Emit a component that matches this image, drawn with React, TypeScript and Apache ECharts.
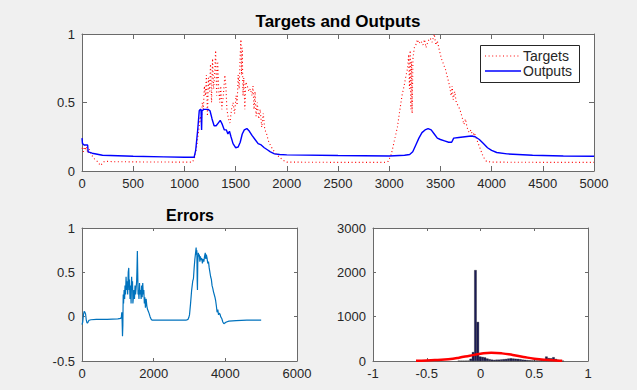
import React, { useEffect, useRef } from "react";
import * as echarts from "echarts";

// ---- Targets (red dotted) ----
const targetX = [0, 15, 25, 35, 45, 55, 70, 90, 110, 130, 150, 170, 185, 200, 220, 250, 300, 600, 900, 1080,
  1100, 1120, 1140, 1155, 1165, 1175, 1185, 1195, 1205, 1215, 1225, 1235, 1245, 1255, 1265, 1275, 1285, 1295, 1305, 1315,
  1325, 1335, 1345, 1355, 1365, 1380, 1395, 1405, 1415, 1430, 1445, 1460, 1475, 1490, 1505, 1515, 1525, 1535, 1545, 1552,
  1558, 1565, 1572, 1580, 1590, 1600, 1615, 1630, 1645, 1660, 1670, 1680, 1690, 1700, 1712, 1725, 1740, 1755, 1770, 1785,
  1800, 1820, 1845, 1870, 1900, 1930, 1960, 2000, 2500, 2950, 2990, 3020, 3050, 3080, 3105, 3125, 3145, 3165, 3180, 3190,
  3198, 3205, 3212, 3218, 3224, 3232, 3245, 3260, 3275, 3290, 3310, 3330, 3345, 3360, 3380, 3400, 3420, 3440, 3455, 3470,
  3490, 3510, 3530, 3550, 3570, 3590, 3605, 3615, 3625, 3640, 3655, 3670, 3690, 3710, 3730, 3745, 3760, 3780, 3800, 3815,
  3830, 3850, 3870, 3890, 3910, 3930, 3950, 4000, 4500, 5000];
const targetY = [0.17, 0.14, 0.19, 0.15, 0.18, 0.13, 0.16, 0.12, 0.10, 0.08, 0.07, 0.05, 0.04, 0.06, 0.07, 0.07, 0.068, 0.066, 0.065, 0.065,
  0.1, 0.18, 0.3, 0.4, 0.35, 0.5, 0.45, 0.62, 0.55, 0.7, 0.4, 0.68, 0.58, 0.78, 0.5, 0.82, 0.6, 0.7, 0.88, 0.55,
  0.8, 0.6, 0.5, 0.62, 0.45, 0.55, 0.7, 0.62, 0.45, 0.38, 0.35, 0.45, 0.5, 0.42, 0.55, 0.48, 0.7, 0.6, 0.85, 0.96,
  0.7, 0.9, 0.55, 0.68, 0.45, 0.65, 0.62, 0.58, 0.6, 0.55, 0.62, 0.45, 0.58, 0.4, 0.5, 0.38, 0.45, 0.32, 0.42, 0.3,
  0.28, 0.22, 0.18, 0.15, 0.12, 0.1, 0.08, 0.065, 0.063, 0.063, 0.07, 0.12, 0.22, 0.32, 0.45, 0.55, 0.62, 0.7, 0.75, 0.85,
  0.6, 0.88, 0.45, 0.8, 0.42, 0.82, 0.9, 0.92, 0.96, 0.93, 0.95, 0.92, 0.96, 0.9, 0.95, 0.97, 0.94, 1.0, 0.92, 0.95,
  0.88, 0.82, 0.78, 0.74, 0.68, 0.62, 0.55, 0.62, 0.52, 0.58, 0.5, 0.48, 0.45, 0.4, 0.34, 0.38, 0.32, 0.28, 0.3, 0.25,
  0.28, 0.24, 0.2, 0.16, 0.12, 0.09, 0.07, 0.065, 0.063, 0.063];

// ---- Outputs (blue) ----
const outputX = [0, 5, 20, 55, 60, 100, 200, 500, 800, 1000, 1095, 1110, 1130, 1145, 1155, 1162, 1168, 1172, 1190, 1230,
  1250, 1270, 1290, 1310, 1330, 1350, 1370, 1390, 1410, 1425, 1440, 1455, 1475, 1500, 1525, 1545, 1565, 1585, 1610, 1635,
  1660, 1690, 1720, 1750, 1780, 1810, 1840, 1880, 1930, 2000, 2500, 3000, 3150, 3200, 3230, 3260, 3290, 3320, 3350, 3380,
  3410, 3440, 3470, 3500, 3540, 3580, 3610, 3630, 3680, 3740, 3800, 3840, 3880, 3920, 3960, 4000, 4050, 4150, 4400, 4700, 5000];
const outputY = [0.24, 0.2, 0.19, 0.19, 0.14, 0.13, 0.115, 0.108, 0.103, 0.1, 0.1, 0.15, 0.3, 0.44, 0.45, 0.45, 0.3, 0.44, 0.45, 0.45,
  0.44, 0.38, 0.33, 0.33, 0.35, 0.37, 0.34, 0.3, 0.3, 0.27, 0.29, 0.25, 0.2, 0.17, 0.175, 0.21, 0.27, 0.3, 0.31, 0.29,
  0.26, 0.23, 0.2, 0.19, 0.17, 0.155, 0.14, 0.125, 0.12, 0.118, 0.113, 0.11, 0.115, 0.12, 0.14, 0.19, 0.24, 0.28, 0.3, 0.31,
  0.3, 0.27, 0.24, 0.23, 0.22, 0.21, 0.21, 0.24, 0.245, 0.25, 0.255, 0.25, 0.23, 0.2, 0.17, 0.15, 0.135, 0.125, 0.115, 0.11, 0.108];

// ---- Errors ----
const errorX = [0, 20, 40, 60, 80, 100, 120, 140, 160, 180, 200, 250, 400, 700, 1000, 1080, 1100, 1110, 1120, 1130,
  1140, 1150, 1160, 1175, 1190, 1200, 1215, 1230, 1245, 1260, 1275, 1290, 1305, 1315, 1325, 1340, 1355, 1370, 1385, 1400,
  1410, 1420, 1435, 1450, 1465, 1480, 1495, 1510, 1525, 1535, 1545, 1555, 1565, 1575, 1590, 1605, 1620, 1635, 1650, 1665,
  1680, 1695, 1710, 1725, 1740, 1755, 1770, 1790, 1810, 1830, 1850, 1870, 1900, 1930, 1960, 2000, 2500, 2900, 2960, 2980,
  3000, 3030, 3060, 3090, 3110, 3130, 3150, 3170, 3185, 3195, 3205, 3215, 3222, 3230, 3245, 3260, 3275, 3290, 3305, 3320,
  3340, 3360, 3380, 3400, 3420, 3440, 3455, 3470, 3490, 3510, 3530, 3550, 3570, 3590, 3610, 3630, 3650, 3670, 3690, 3710,
  3730, 3750, 3770, 3790, 3810, 3830, 3850, 3870, 3900, 3930, 3960, 3990, 4030, 4100, 4300, 4600, 5000];
const errorY = [-0.09, -0.06, 0.02, 0.06, 0.05, 0.03, -0.04, -0.07, -0.07, -0.05, -0.04, -0.035, -0.03, -0.03, -0.025, -0.02, 0.0, 0.05, -0.05, -0.22,
  -0.1, 0.25, 0.15, 0.3, 0.2, 0.35, 0.25, 0.45, 0.3, 0.4, 0.25, 0.5, 0.55, 0.3, 0.42, 0.2, 0.35, 0.15, 0.45, 0.3,
  0.4, 0.15, 0.22, 0.3, 0.2, 0.35, 0.25, 0.32, 0.4, 0.55, 0.74, 0.5, 0.25, 0.3, 0.2, 0.38, 0.25, 0.3, 0.2, 0.35,
  0.22, 0.38, 0.25, 0.3, 0.15, 0.22, 0.1, 0.2, 0.12, 0.08, 0.06, 0.04, 0.0, -0.03, -0.04, -0.04, -0.04, -0.04, -0.03, -0.01,
  0.02, 0.15, 0.3, 0.4, 0.43, 0.55, 0.65, 0.72, 0.78, 0.7, 0.75, 0.4, 0.3, 0.6, 0.72, 0.68, 0.7, 0.62, 0.68, 0.64,
  0.66, 0.6, 0.65, 0.62, 0.68, 0.72, 0.65, 0.7, 0.66, 0.6, 0.62, 0.55, 0.5, 0.45, 0.42, 0.35, 0.32, 0.28, 0.25, 0.22,
  0.18, 0.12, 0.05, 0.08, 0.02, 0.04, 0.03, 0.0, -0.02, -0.06, -0.08, -0.07, -0.06, -0.05, -0.045, -0.04, -0.04];

// ---- Error histogram ----
const binCenters = [-0.201, -0.179, -0.157, -0.135, -0.113, -0.091, -0.069, -0.047, -0.025, -0.003, 0.019, 0.041, 0.063, 0.085, 0.107,
  0.129, 0.151, 0.173, 0.195, 0.217, 0.239, 0.261, 0.283, 0.305, 0.327, 0.349, 0.371, 0.393, 0.415, 0.437, 0.459, 0.481, 0.503,
  0.525, 0.547, 0.569, 0.591, 0.613, 0.635, 0.657, 0.679, 0.701, 0.723, 0.745, 0.767];
const binCounts = [5, 3, 3, 4, 8, 50, 200, 2050, 880, 100, 90, 80, 55, 40, 30,
  25, 30, 30, 35, 40, 45, 55, 60, 55, 50, 45, 40, 30, 25, 20, 15, 12, 10,
  10, 12, 20, 35, 100, 65, 60, 85, 45, 25, 12, 5];

// ---- Fitted normal curve ----
const fitX = [-0.6, -0.5, -0.4, -0.3, -0.2, -0.1, 0, 0.1, 0.2, 0.3, 0.4, 0.5, 0.6, 0.7, 0.76];
const fitY = [6, 12, 25, 42, 75, 120, 163, 185, 172, 135, 92, 52, 26, 12, 7];

const legendNames = ["Targets", "Outputs"];

const FONT = "'Liberation Sans', Arial, Helvetica, sans-serif";
const AXIS_COLOR = "#6a6a6a";
const LABEL_COLOR = "#262626";
const TARGET_DASH = [1, 2.6];

function xAxes(grid: number, min: number, max: number, interval: number, tick: number) {
  const common = {
    type: "value", gridIndex: grid, min, max, interval,
    splitLine: { show: false },
    axisLine: { show: true, onZero: false, lineStyle: { color: AXIS_COLOR, width: 1 } },
    axisTick: { show: true, inside: true, length: tick, lineStyle: { color: AXIS_COLOR } },
  };
  return [
    { ...common, position: "bottom",
      axisLabel: { show: true, margin: 6, color: LABEL_COLOR, fontSize: 13, fontFamily: FONT, formatter: (v: number) => String(v) } },
    { ...common, position: "top", axisLabel: { show: false } },
  ];
}
function yAxes(grid: number, min: number, max: number, interval: number, tick: number) {
  const common = {
    type: "value", gridIndex: grid, min, max, interval,
    splitLine: { show: false },
    axisLine: { show: true, onZero: false, lineStyle: { color: AXIS_COLOR, width: 1 } },
    axisTick: { show: true, inside: true, length: tick, lineStyle: { color: AXIS_COLOR } },
  };
  return [
    { ...common, position: "left",
      axisLabel: { show: true, margin: 7, color: LABEL_COLOR, fontSize: 13, fontFamily: FONT, formatter: (v: number) => String(v) } },
    { ...common, position: "right", axisLabel: { show: false } },
  ];
}

export default function App() {
  const ref = useRef<HTMLDivElement>(null);
  useEffect(() => {
    if (!ref.current) return;
    const chart = echarts.init(ref.current, undefined, { renderer: "svg" });
    const gridStyle = { show: true, backgroundColor: "#ffffff", borderWidth: 0, containLabel: false };
    chart.setOption({
      animation: false,
      backgroundColor: "#f0f0f0",
      textStyle: { fontFamily: FONT },
      grid: [
        { ...gridStyle, left: 82, top: 34, width: 512, height: 137 },
        { ...gridStyle, left: 82, top: 228, width: 215, height: 133 },
        { ...gridStyle, left: 373, top: 228, width: 215, height: 133 },
      ],
      xAxis: [
        ...xAxes(0, 0, 5000, 500, 5),
        ...xAxes(1, 0, 6000, 2000, 3),
        ...xAxes(2, -1, 1, 0.5, 3),
      ],
      yAxis: [
        ...yAxes(0, 0, 1, 0.5, 5),
        ...yAxes(1, -0.5, 1, 0.5, 3),
        ...yAxes(2, 0, 3000, 1000, 3),
      ],
      graphic: [
        { type: "text", x: 338, y: 21, style: { text: "Targets and Outputs", fontSize: 17, fontWeight: "bold", fontFamily: FONT, fill: "#000", align: "center", verticalAlign: "middle" } },
        { type: "text", x: 190, y: 215, style: { text: "Errors", fontSize: 16, fontWeight: "bold", fontFamily: FONT, fill: "#000", align: "center", verticalAlign: "middle" } },
        // legend box
        { type: "rect", z: 100, shape: { x: 480.5, y: 45.5, width: 99, height: 37 }, style: { fill: "#ffffff", stroke: "#262626", lineWidth: 1 } },
        { type: "line", z: 101, shape: { x1: 485, y1: 56, x2: 521, y2: 56 }, style: { stroke: "#ff0000", lineWidth: 1.2, lineDash: TARGET_DASH } },
        { type: "text", z: 101, x: 523, y: 56, style: { text: legendNames[0], fontSize: 14, fontFamily: FONT, fill: LABEL_COLOR, align: "left", verticalAlign: "middle" } },
        { type: "line", z: 101, shape: { x1: 485, y1: 71, x2: 521, y2: 71 }, style: { stroke: "#0000ff", lineWidth: 1.5 } },
        { type: "text", z: 101, x: 523, y: 71, style: { text: legendNames[1], fontSize: 14, fontFamily: FONT, fill: LABEL_COLOR, align: "left", verticalAlign: "middle" } },
      ],
      series: [
        {
          name: legendNames[0], type: "line", xAxisIndex: 0, yAxisIndex: 0,
          data: targetX.map((x, i) => [x, targetY[i]]),
          symbol: "none",
          lineStyle: { color: "#ff0000", width: 1.1, type: TARGET_DASH },
          itemStyle: { color: "#ff0000" },
        },
        {
          name: legendNames[1], type: "line", xAxisIndex: 0, yAxisIndex: 0,
          data: outputX.map((x, i) => [x, outputY[i]]),
          symbol: "none",
          lineStyle: { color: "#0000ff", width: 1.4 },
          itemStyle: { color: "#0000ff" },
        },
        {
          name: "Errors", type: "line", xAxisIndex: 2, yAxisIndex: 2,
          data: errorX.map((x, i) => [x, errorY[i]]),
          symbol: "none",
          lineStyle: { color: "#0072bd", width: 1.2 },
        },
        {
          name: "Histogram", type: "bar", xAxisIndex: 4, yAxisIndex: 4,
          data: binCenters.map((x, i) => [x, binCounts[i]]),
          barWidth: 2.4,
          itemStyle: { color: "#1c1c58", borderColor: "#000000", borderWidth: 0.3 },
        },
        {
          name: "Fit", type: "line", xAxisIndex: 4, yAxisIndex: 4,
          data: fitX.map((x, i) => [x, fitY[i]]),
          symbol: "none", smooth: true,
          lineStyle: { color: "#ff0000", width: 2.5 },
        },
      ],
    });
    return () => chart.dispose();
  }, []);
  return (
    <div
      ref={ref}
      style={{ position: "fixed", left: 0, top: 0, width: 637, height: 390, background: "#f0f0f0" }}
    />
  );
}
